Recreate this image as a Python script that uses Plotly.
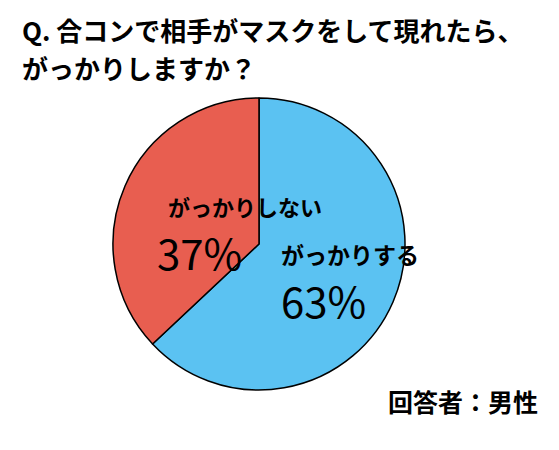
import plotly.graph_objects as go

labels = ["がっかりする", "がっかりしない"]
values = [63, 37]
colors = ["#5BC2F2", "#E85E50"]

fig = go.Figure(go.Pie(
    labels=labels, values=values, sort=False, direction="clockwise", rotation=0,
    marker=dict(colors=colors, line=dict(color="black", width=1.5)),
    textinfo="none", hoverinfo="label+percent", showlegend=False,
    domain=dict(x=[105/559, 397/559], y=[1-382/450, 1-90/450]),
))
F = "Noto Sans CJK JP"
fig.add_annotation(x=12/559, y=1-22/450, xref="paper", yref="paper", xanchor="left", yanchor="middle",
                   text="<b>Q. 合コンで相手がマスクをして現れたら、</b>", showarrow=False, font=dict(family=F, size=26, color="black"))
fig.add_annotation(x=12/559, y=1-60/450, xref="paper", yref="paper", xanchor="left", yanchor="middle",
                   text="<b>がっかりしますか？</b>", showarrow=False, font=dict(family=F, size=26, color="black"))
fig.add_annotation(x=158/559, y=1-198/450, xref="paper", yref="paper", text="<b>がっかりしない</b>",
                   showarrow=False, font=dict(family=F, size=22, color="black"))
fig.add_annotation(x=191/559, y=1-243/450, xref="paper", yref="paper", text="37%",
                   showarrow=False, font=dict(family=F, size=42, color="black"))
fig.add_annotation(x=342/559, y=1-246/450, xref="paper", yref="paper", text="<b>がっかりする</b>",
                   showarrow=False, font=dict(family=F, size=23, color="black"))
fig.add_annotation(x=315/559, y=1-291/450, xref="paper", yref="paper", text="63%",
                   showarrow=False, font=dict(family=F, size=42, color="black"))
fig.add_annotation(x=532/559, y=1-413/450, xref="paper", yref="paper", xanchor="right", text="<b>回答者：男性</b>",
                   showarrow=False, font=dict(family=F, size=25, color="black"))
fig.update_layout(width=559, height=450, margin=dict(l=0, r=0, t=0, b=0),
                  paper_bgcolor="white", plot_bgcolor="white")
fig.write_html("out.html")
